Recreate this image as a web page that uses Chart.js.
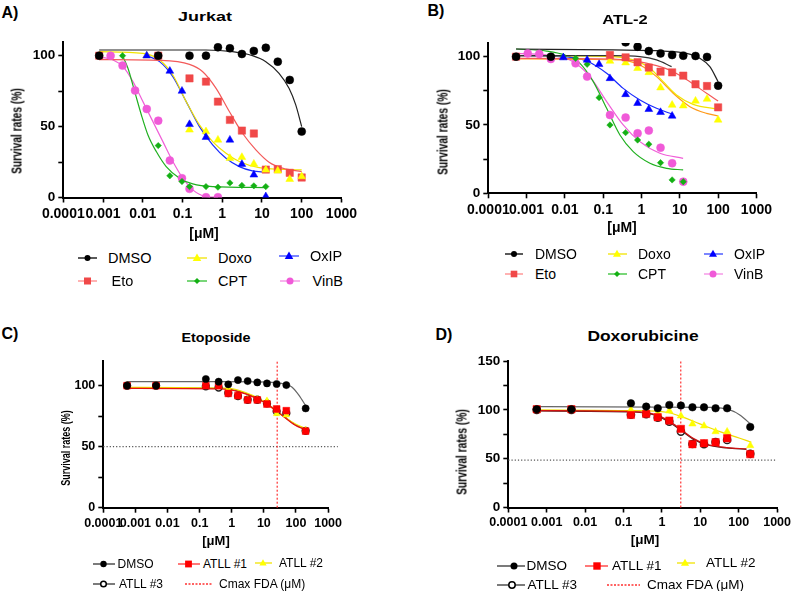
<!DOCTYPE html>
<html>
<head>
<meta charset="utf-8">
<script src="https://cdn.jsdelivr.net/npm/chart.js@4.4.0/dist/chart.umd.min.js"></script>
<style>
html, body { margin: 0; padding: 0; background: #fff; }
#page { position: relative; width: 794px; height: 591px; overflow: hidden; font-family: "Liberation Sans", Arial, sans-serif; color: #000; }
canvas { position: absolute; }
.t { position: absolute; white-space: nowrap; line-height: 1; transform: translate(-50%, -50%); }
.rot { transform: translate(-50%, -50%) rotate(-90deg) scaleX(0.68); }
.lg { position: absolute; white-space: nowrap; line-height: 1; transform: translateY(-50%); }
</style>
</head>
<body>
<div id="page">
  <canvas id="cA" width="360" height="205"></canvas>
  <canvas id="cB" width="375" height="205"></canvas>
  <canvas id="cC" width="305" height="190"></canvas>
  <canvas id="cD" width="354" height="190"></canvas>

  <div class="t" style="left:10px;top:12.5px;font-size:16px;font-weight:bold">A)</div>
  <div class="t" style="left:436px;top:11px;font-size:16px;font-weight:bold">B)</div>
  <div class="t" style="left:10px;top:334px;font-size:16px;font-weight:bold">C)</div>
  <div class="t" style="left:444px;top:335px;font-size:16px;font-weight:bold">D)</div>

  <div class="t" style="left:205px;top:16px;font-size:13px;font-weight:bold;transform:translate(-50%,-50%) scaleX(1.38)">Jurkat</div>
  <div class="t" style="left:625px;top:18.5px;font-size:13px;font-weight:bold;transform:translate(-50%,-50%) scaleX(1.27)">ATL-2</div>
  <div class="t" style="left:215.5px;top:337px;font-size:13px;font-weight:bold;transform:translate(-50%,-50%) scaleX(1.1)">Etoposide</div>
  <div class="t" style="left:643px;top:336px;font-size:14.5px;font-weight:bold;transform:translate(-50%,-50%) scaleX(1.2)">Doxorubicine</div>

  <div class="t rot" style="left:16px;top:131px;font-size:15px;font-weight:bold">Survival rates (%)</div>
  <div class="t rot" style="left:441.7px;top:131.7px;font-size:15px;font-weight:bold">Survival rates (%)</div>
  <div class="t rot" style="left:65px;top:447.5px;font-size:13px;font-weight:bold;transform:translate(-50%,-50%) rotate(-90deg) scaleX(0.69)">Survival rates (%)</div>
  <div class="t rot" style="left:461px;top:451.7px;font-size:15px;font-weight:bold">Survival rates (%)</div>

  <div class="t" style="left:204px;top:232.5px;font-size:14px;font-weight:bold">[μM]</div>
  <div class="t" style="left:622px;top:226.7px;font-size:14px;font-weight:bold">[μM]</div>
  <div class="t" style="left:216px;top:540px;font-size:13px;font-weight:bold">[μM]</div>
  <div class="t" style="left:645px;top:540px;font-size:13.5px;font-weight:bold">[μM]</div>
</div>

<script>
// ====== Eixo X comum (log) ======
const xTickValues = [0.0001, 0.001, 0.01, 0.1, 1, 10, 100, 1000];
const xTickLabels = ['0.0001', '0.001', '0.01', '0.1', '1', '10', '100', '1000'];
const _ = null;

// ====== A) Jurkat - pontos ======
const jurkatDoses = [0.0008, 0.00155, 0.0031, 0.0064, 0.0126, 0.0245, 0.048, 0.097, 0.15, 0.39, 0.78, 1.56, 3.125, 6.25, 12.5, 25, 50, 100];
const jurkatDMSO = [100, _, _, _, _, 100, _, _, 100, 100, 105.9, 105.2, 101.2, 103.3, 105.6, 95.8, 82.9, 46.5];
const jurkatEto  = [100, _, _, _, _, 100, _, _, 84, 81.7, 67.6, 54.7, 47.2, 45.1, 19.7, 20, 17.4, 14.1];
const jurkatDoxo = [_, _, _, _, 100, _, _, _, 47.7, 46.5, 40.6, 27.7, 28.4, 23.7, 19.5, 18.8, 12.9, 14.8];
const jurkatOxIP = [_, _, _, _, 100, _, 89.2, 75.1, 51.6, 42.5, _, 40.6, 23.5, 16, 0.7, _, _, _];
const jurkatCPT  = [_, _, 100, _, _, 36.6, 15.3, 11.3, 7.7, 7.7, 7.3, 10.3, 8.5, 8.2, 7.7, _, _, _];
const jurkatVinB = [_, 100, 93, 75.4, 62.4, 54.2, 26.1, 13.6, 6.1, 0.2, 0.2, _, _, _, _, _, _, _];

// ====== A) Jurkat - curvas ajustadas ======
const jurkatDMSOFitX = [0.0008, 0.39, 1.82, 5.75, 12.5, 26.9, 48, 70.8, 100];
const jurkatDMSOFitY = [104, 104, 102.8, 100, 95.8, 87.6, 77, 65.3, 50];
const jurkatEtoFitX  = [0.0008, 0.0265, 0.15, 0.323, 0.7, 1.51, 3.24, 7.03, 15.1, 32.7, 100];
const jurkatEtoFitY  = [97.2, 96.7, 93.9, 88.7, 77, 60.6, 45.3, 33.6, 24.9, 20.7, 18.3];
const jurkatDoxoFitX = [0.0008, 0.0101, 0.0265, 0.0571, 0.124, 0.267, 0.574, 1.245, 2.69, 8.5, 100];
const jurkatDoxoFitY = [102.8, 101.6, 97, 86.4, 67.6, 51.2, 39.4, 31.2, 25.4, 21.1, 19.5];
const jurkatOxIPFitX = [0.0127, 0.0265, 0.0571, 0.124, 0.267, 0.574, 1.245, 2.69, 5.75, 12.5];
const jurkatOxIPFitY = [100, 95.8, 85.2, 67.6, 50, 37.1, 27.7, 21.8, 18.8, 17.8];
const jurkatCPTFitX  = [0.0031, 0.00426, 0.00627, 0.00923, 0.0135, 0.0219, 0.0389, 0.0841, 0.181, 0.574, 12.5];
const jurkatCPTFitY  = [100, 91, 74.6, 58.2, 44.1, 32.4, 21.8, 13.6, 9.6, 7.7, 7];
const jurkatVinBFitX = [0.0008, 0.00179, 0.00319, 0.00567, 0.0101, 0.018, 0.0321, 0.0571, 0.102, 0.181, 0.39, 0.78];
const jurkatVinBFitY = [99.3, 97, 92.3, 81.7, 67.6, 53.5, 39.4, 25.4, 13.6, 5.4, 0.7, 0.2];

// ====== B) ATL-2 - pontos ======
const atlDoses = [0.00053, 0.00107, 0.00214, 0.0043, 0.0091, 0.019, 0.038, 0.078, 0.15, 0.384, 0.79, 1.55, 3.14, 6.3, 12.3, 25.7, 51.3, 100];
const atlDMSO = [100, _, _, 100, _, _, _, _, _, 110.5, 107.3, 104.1, 102.4, 101.2, 100.7, 100.5, 99.8, 78.8];
const atlEto  = [100, _, _, _, _, _, _, _, 101.2, 99.5, 95.9, 92, 89, 88.5, 86.1, 79.8, 78.5, 62.9];
const atlDoxo = [_, _, _, _, _, _, _, _, 96.8, 95.6, 91.5, 88.5, 77.3, 64.6, 64.1, 67.6, 69, 53.7];
const atlOxIP = [_, _, _, _, 99.3, _, 97.6, 94.4, 84.1, 72.4, 65.9, 61.5, 59.3, 56.6, _, _, _, _];
const atlCPT  = [_, _, _, _, 100, 98.8, 94.4, 70, 50, 44.4, 39, 35.9, 22.4, 9.8, 8.5, _, _, _];
const atlVinB = [_, 102.4, 102, 98.3, _, 95.1, 85.4, _, 57.3, 55.4, 43.9, 45.9, 33.4, 22, 8.5, _, _, _];

// ====== B) ATL-2 - curvas ajustadas ======
const atlDMSOFitX  = [0.00053, 0.182, 3.68, 15, 33.3, 60.8, 100];
const atlDMSOFitY  = [105.6, 104.9, 104.1, 102.4, 98.8, 92.7, 81.7];
const atlGrayFitX  = [0.00053, 0.182, 0.908, 2.47, 6.1];
const atlGrayFitY  = [100.7, 100.7, 100, 97.6, 92.7];
const atlEtoFitX   = [0.00053, 0.182, 0.743, 2.47, 6.7, 18.3, 49.9, 100];
const atlEtoFitY   = [98.8, 98.3, 96.8, 93.4, 89, 81.7, 73.2, 67.6];
const atlDoxoFitX  = [0.00053, 0.182, 0.607, 1.66, 3.68, 8.2, 22.3, 100];
const atlDoxoFitY  = [100.7, 100, 97.6, 91.5, 81.7, 72, 65.1, 61.7];
const atlOrangeFitX = [0.00053, 0.273, 0.908, 2.47, 6.7, 18.3, 49.9, 100];
const atlOrangeFitY = [98.3, 97.6, 93.9, 85.4, 73.2, 63.4, 58.5, 56.6];
const atlOxIPFitX  = [0.00053, 0.0091, 0.0369, 0.123, 0.333, 0.908, 2.47, 6.3];
const atlOxIPFitY  = [100.7, 100, 96.8, 87.8, 76.8, 68.3, 62.2, 58];
const atlCPTFitX   = [0.00053, 0.00333, 0.0111, 0.0247, 0.055, 0.123, 0.273, 0.607, 1.66, 4.51, 12.2];
const atlCPTFitY   = [105.6, 104.1, 100.7, 95.1, 81.7, 62.2, 42.7, 30.5, 22, 18.3, 17.1];
const atlVinBFitX  = [0.00053, 0.00497, 0.0165, 0.045, 0.123, 0.333, 0.908, 3.02, 12.2];
const atlVinBFitY  = [102.4, 100.7, 96.3, 85.4, 67.1, 50, 37.8, 29.3, 25.6];

// ====== C/D) ATLL primários ======
const atllDoses = [0.00055, 0.0044, 0.156, 0.39, 0.78, 1.56, 3.125, 6.25, 12.5, 25, 50, 200];

const etoDMSO  = [100, 100, 105.5, 103.3, 101.1, 104.6, 103.8, 102.7, 101.9, 101.4, 100.5, 81.4];
const etoATLL1 = [100, 100, 100, 100, 93.7, 91.8, 88.3, 88.3, 85, 80.9, 79.5, 62.8];
const etoATLL2 = [100, 100, 100.5, 99.2, 97, 91, 88.8, 88.8, 87.7, 77, 76, 63.7];
const etoATLL3 = [100, 100, 99.5, 98.5, 94, 91.5, 88.5, 88.5, 85.5, 79, 77.5, 63];
const etoDMSOFitX  = [0.00053, 0.5, 13.6, 35.5, 72.6, 123, 203];
const etoDMSOFitY  = [103.3, 103.3, 103, 101.9, 99.2, 92.3, 83.3];
const etoATLL1FitX = [0.00053, 0.48, 1.58, 5.25, 13.6, 35.5, 92, 203];
const etoATLL1FitY = [97.8, 97.3, 95.1, 90.2, 84.2, 76, 67.8, 63.7];
const etoATLL2FitX = [0.00053, 0.78, 2.57, 8.5, 25.4, 72.6, 203];
const etoATLL2FitY = [98.6, 97.8, 94.5, 88.3, 78.7, 70.5, 64.5];
const etoATLL3FitY = [98.3, 97.8, 95.6, 90.6, 84.6, 76.4, 68.2, 64];
const etoCmax = 26;

const doxDMSO  = [100.6, 100.6, 106.7, 103.3, 101.6, 105, 104.4, 102.6, 102.6, 101.6, 101.6, 82.5];
const doxATLL1 = [100.6, 100.6, 94.8, 95.8, 92.4, 89, 80.5, 64.8, 65.8, 66.8, 70.9, 54.6];
const doxATLL2 = [100, 100, 99.9, 97.5, 96.5, 98.9, 93.8, 85.6, 83.6, 77.7, 77.7, 63.4];
const doxATLL3 = [100, 100, 95, 95.5, 92, 88, 77.7, 65, 64.8, 67, 69.2, 55];
const doxDMSOFitX  = [0.00055, 21.6, 58.9, 107, 214];
const doxDMSOFitY  = [103.3, 102.6, 99.9, 94.8, 84.6];
const doxATLL1FitX = [0.00055, 0.179, 0.728, 1.61, 3.25, 6.52, 14.5, 48.2, 159];
const doxATLL1FitY = [99.2, 98.2, 94.8, 88, 79.5, 70.9, 64.8, 61.4, 60];
const doxATLL2FitX = [0.00055, 0.179, 1.32, 3.25, 9.7, 32.3, 107, 214];
const doxATLL2FitY = [99.9, 99.2, 97.5, 93.1, 85.6, 77.7, 70.9, 66.8];
const doxATLL3FitY = [98.8, 97.8, 94, 87, 78.5, 70, 64.2, 61, 59.6];
const doxCmax = 3.1;

// ====== Helpers ======
const FONT = '"Liberation Sans", Arial, sans-serif';
const YW = 42, XH = 26;

function pts(xs, ys) {
    return xs.map((x, i) => ({ x: x, y: ys[i] })).filter(p => p.y !== null);
}

function pointSet(xs, ys, color, style, r, fill) {
    return {
        data: pts(xs, ys), showLine: false,
        pointStyle: style, pointRadius: r,
        pointBackgroundColor: fill || color, pointBorderColor: color,
        pointBorderWidth: fill ? 1.5 : 0.5
    };
}

function fitSet(xs, ys, color, width) {
    return {
        data: pts(xs, ys), showLine: true, pointRadius: 0,
        borderColor: color, borderWidth: width || 1.2,
        cubicInterpolationMode: 'monotone', fill: false
    };
}

function refLine(xs, ys, color, dash) {
    return {
        data: pts(xs, ys), showLine: true, pointRadius: 0,
        borderColor: color, borderWidth: 1.2, borderDash: dash, clip: false
    };
}

function makePanel(id, box, area, yMax, yTicks, xFont, yFont, datasets) {
    const cv = document.getElementById(id);
    cv.style.left = box.x + 'px';
    cv.style.top = box.y + 'px';
    new Chart(cv, {
        type: 'scatter',
        data: { datasets: datasets },
        options: {
            responsive: false, animation: false, events: [],
            layout: { padding: {
                left: area.l - box.x - YW,
                top: area.t - box.y,
                right: box.x + box.w - area.r,
                bottom: box.y + box.h - area.b - XH
            } },
            plugins: { legend: { display: false }, tooltip: { enabled: false } },
            scales: {
                x: {
                    type: 'logarithmic', min: 0.0001, max: 1000,
                    afterFit: s => { s.height = XH; },
                    afterBuildTicks: s => { s.ticks = xTickValues.map(v => ({ value: v })); },
                    ticks: {
                        autoSkip: false, maxRotation: 0, minRotation: 0, padding: 3, color: '#000',
                        font: { family: FONT, size: xFont, weight: 'bold' },
                        callback: (v, i) => xTickLabels[i]
                    },
                    grid: { drawOnChartArea: false, tickLength: 5, tickColor: '#000', tickWidth: 1.6 },
                    border: { color: '#000', width: 2 }
                },
                y: {
                    min: 0, max: yMax,
                    afterFit: s => { s.width = YW; },
                    afterBuildTicks: s => { s.ticks = yTicks.map(v => ({ value: v })); },
                    ticks: {
                        padding: 3, color: '#000',
                        font: { family: FONT, size: yFont, weight: 'bold' },
                        callback: v => (v % 50 === 0 ? String(v) : '')
                    },
                    grid: { drawOnChartArea: false, tickLength: 5, tickColor: '#000', tickWidth: 1.6 },
                    border: { color: '#000', width: 2 }
                }
            }
        }
    });
}

// ====== Cores ======
const cBlack = '#000000', cEto = '#f04848', cDoxo = '#ffff00', cOxIP = '#0000ff',
      cCPT = '#14b014', cVinB = '#f05ad8', cOrange = '#ff9a1a';

// ====== A) Jurkat ======
makePanel('cA', { x: 0, y: 25, w: 360, h: 205 }, { l: 63.3, t: 41.5, r: 342.7, b: 197.5 },
    110, [0, 25, 50, 75, 100], 14, 13.5, [
    pointSet(jurkatDoses, jurkatDMSO, cBlack, 'circle', 4),
    pointSet(jurkatDoses, jurkatOxIP, cOxIP, 'triangle', 4.5),
    pointSet(jurkatDoses, jurkatDoxo, cDoxo, 'triangle', 4.5),
    pointSet(jurkatDoses, jurkatEto, cEto, 'rect', 5.2),
    pointSet(jurkatDoses, jurkatCPT, cCPT, 'rectRot', 3.2),
    pointSet(jurkatDoses, jurkatVinB, cVinB, 'circle', 4),
    fitSet(jurkatDMSOFitX, jurkatDMSOFitY, '#222'),
    fitSet(jurkatEtoFitX, jurkatEtoFitY, '#f35a5a'),
    fitSet(jurkatDoxoFitX, jurkatDoxoFitY, '#f2e400'),
    fitSet(jurkatOxIPFitX, jurkatOxIPFitY, '#1a2cff'),
    fitSet(jurkatCPTFitX, jurkatCPTFitY, '#20b020'),
    fitSet(jurkatVinBFitX, jurkatVinBFitY, '#f060d8')
]);

// ====== B) ATL-2 ======
makePanel('cB', { x: 400, y: 25, w: 375, h: 205 }, { l: 488.3, t: 43, r: 756.7, b: 193.3 },
    110, [0, 25, 50, 75, 100], 14, 13.5, [
    pointSet(atlDoses, atlDMSO, cBlack, 'circle', 4),
    pointSet(atlDoses, atlEto, cEto, 'rect', 5.2),
    pointSet(atlDoses, atlDoxo, cDoxo, 'triangle', 4.5),
    pointSet(atlDoses, atlOxIP, cOxIP, 'triangle', 4.5),
    pointSet(atlDoses, atlCPT, cCPT, 'rectRot', 3.2),
    pointSet(atlDoses, atlVinB, cVinB, 'circle', 4),
    fitSet(atlDMSOFitX, atlDMSOFitY, '#222'),
    fitSet(atlGrayFitX, atlGrayFitY, '#333'),
    fitSet(atlEtoFitX, atlEtoFitY, '#f35a5a'),
    fitSet(atlDoxoFitX, atlDoxoFitY, '#f2e400'),
    fitSet(atlOrangeFitX, atlOrangeFitY, cOrange),
    fitSet(atlOxIPFitX, atlOxIPFitY, '#1a2cff'),
    fitSet(atlCPTFitX, atlCPTFitY, '#20b020'),
    fitSet(atlVinBFitX, atlVinBFitY, '#f060d8')
]);

// ====== C) Etoposide ======
makePanel('cC', { x: 40, y: 345, w: 305, h: 190 }, { l: 103.3, t: 361.3, r: 328.3, b: 507.7 },
    120, [0, 25, 50, 75, 100], 12.5, 12.5, [
    pointSet(atllDoses, etoDMSO, cBlack, 'circle', 3.6),
    pointSet(atllDoses, etoATLL1, '#ff0000', 'rect', 4.8),
    pointSet(atllDoses, etoATLL2, cDoxo, 'triangle', 3.8),
    pointSet(atllDoses, etoATLL3, '#222', 'circle', 3.4, 'rgba(255,255,255,0.6)'),
    fitSet(etoDMSOFitX, etoDMSOFitY, '#666'),
    fitSet(etoATLL1FitX, etoATLL1FitY, '#e81010'),
    fitSet(etoATLL2FitX, etoATLL2FitY, '#f0dc00'),
    fitSet(etoATLL1FitX, etoATLL3FitY, '#7a4040'),
    refLine([etoCmax, etoCmax], [0, 120], '#ff3030', [2, 2]),
    refLine([0.0001, 2000], [50, 50], '#555', [1.2, 2])
]);

// ====== D) Doxorubicine ======
makePanel('cD', { x: 440, y: 345, w: 354, h: 190 }, { l: 508.3, t: 361, r: 777.3, b: 507.5 },
    150, [0, 25, 50, 75, 100, 125, 150], 12.5, 13.5, [
    pointSet(atllDoses, doxDMSO, cBlack, 'circle', 3.8),
    pointSet(atllDoses, doxATLL1, '#ff0000', 'rect', 5.2),
    pointSet(atllDoses, doxATLL2, cDoxo, 'triangle', 4.2),
    pointSet(atllDoses, doxATLL3, '#222', 'circle', 3.6, 'rgba(255,255,255,0.6)'),
    fitSet(doxDMSOFitX, doxDMSOFitY, '#666'),
    fitSet(doxATLL1FitX, doxATLL1FitY, '#d01010'),
    fitSet(doxATLL2FitX, doxATLL2FitY, '#f0dc00'),
    fitSet(doxATLL1FitX, doxATLL3FitY, '#5a2020'),
    refLine([doxCmax, doxCmax], [0, 150], '#ff3030', [2, 2]),
    refLine([0.0001, 925], [48.5, 48.5], '#555', [1.2, 2])
]);

// ====== Legendas (HTML) ======
function markerSvg(style, color, cx, cy, r) {
    if (style === 'circle') return `<circle cx="${cx}" cy="${cy}" r="${r}" fill="${color}"/>`;
    if (style === 'circleOpen') return `<circle cx="${cx}" cy="${cy}" r="${r}" fill="#fff" stroke="${color}" stroke-width="1.5"/>`;
    if (style === 'rect') return `<rect x="${cx - r}" y="${cy - r}" width="${2 * r}" height="${2 * r}" fill="${color}"/>`;
    if (style === 'triangle') return `<polygon points="${cx},${cy - r} ${cx + r * 0.95},${cy + r * 0.65} ${cx - r * 0.95},${cy + r * 0.65}" fill="${color}"/>`;
    if (style === 'rectRot') return `<polygon points="${cx},${cy - r} ${cx + r},${cy} ${cx},${cy + r} ${cx - r},${cy}" fill="${color}"/>`;
    return '';
}

function addLegend(items, size) {
    const page = document.getElementById('page');
    items.forEach(it => {
        const w = it.x2 - it.x1, h = 16, cy = h / 2;
        const dash = it.dash ? 'stroke-dasharray="2 1.5"' : '';
        const svg = document.createElement('div');
        svg.style.cssText = `position:absolute;left:${it.x1}px;top:${it.y - h / 2}px;width:${w}px;height:${h}px`;
        svg.innerHTML = `<svg width="${w}" height="${h}" style="overflow:visible"><line x1="0" y1="${cy}" x2="${w}" y2="${cy}" stroke="${it.line}" stroke-width="1.3" ${dash}/>` +
            markerSvg(it.style, it.color, it.mx - it.x1, cy, it.r) + '</svg>';
        page.appendChild(svg);
        const tx = document.createElement('div');
        tx.className = 'lg';
        tx.style.cssText = `left:${it.tx}px;top:${it.y}px;font-size:${size}px`;
        tx.textContent = it.text;
        page.appendChild(tx);
    });
}

const cellLegend = ['DMSO', 'Doxo', 'OxIP', 'Eto', 'CPT', 'VinB'];
const atllLegend = ['DMSO', 'ATLL #1', 'ATLL #2', 'ATLL #3', 'Cmax FDA (μM)'];

addLegend([
    { text: cellLegend[0], x1: 78, x2: 97, mx: 87.5, y: 257.5, tx: 108, style: 'circle', color: '#000', line: '#000', r: 3 },
    { text: cellLegend[1], x1: 187, x2: 207, mx: 197, y: 257.5, tx: 218, style: 'triangle', color: cDoxo, line: '#f2e400', r: 4.5 },
    { text: cellLegend[2], x1: 279, x2: 299, mx: 289, y: 256, tx: 310, style: 'triangle', color: cOxIP, line: '#3344ff', r: 4.5 },
    { text: cellLegend[3], x1: 78, x2: 97, mx: 87.5, y: 281, tx: 111.5, style: 'rect', color: cEto, line: '#f88', r: 3.5 },
    { text: cellLegend[4], x1: 187, x2: 207, mx: 197, y: 281, tx: 218, style: 'rectRot', color: cCPT, line: '#30c030', r: 3 },
    { text: cellLegend[5], x1: 280, x2: 300, mx: 290, y: 281, tx: 312.5, style: 'circle', color: cVinB, line: '#f48ae4', r: 3.5 }
], 14.5);

addLegend([
    { text: cellLegend[0], x1: 505, x2: 523, mx: 514, y: 253.5, tx: 535, style: 'circle', color: '#000', line: '#000', r: 3 },
    { text: cellLegend[1], x1: 608, x2: 627, mx: 617, y: 253.5, tx: 638, style: 'triangle', color: cDoxo, line: '#f2e400', r: 4.2 },
    { text: cellLegend[2], x1: 704, x2: 723, mx: 713, y: 253.5, tx: 734, style: 'triangle', color: cOxIP, line: '#3344ff', r: 4.2 },
    { text: cellLegend[3], x1: 505, x2: 523, mx: 514, y: 273.5, tx: 535, style: 'rect', color: cEto, line: '#f88', r: 3.3 },
    { text: cellLegend[4], x1: 608, x2: 627, mx: 617, y: 273.5, tx: 638, style: 'rectRot', color: cCPT, line: '#30c030', r: 3 },
    { text: cellLegend[5], x1: 704, x2: 723, mx: 713, y: 273.5, tx: 734, style: 'circle', color: cVinB, line: '#f48ae4', r: 3.5 }
], 14);

addLegend([
    { text: atllLegend[0], x1: 93, x2: 115, mx: 103.5, y: 563.5, tx: 117.5, style: 'circle', color: '#000', line: '#333', r: 3.2 },
    { text: atllLegend[1], x1: 178, x2: 200, mx: 188.5, y: 563.5, tx: 203, style: 'rect', color: '#ff0000', line: '#ff3030', r: 3.4 },
    { text: atllLegend[2], x1: 255, x2: 272, mx: 263, y: 562.5, tx: 279, style: 'triangle', color: cDoxo, line: '#f2e400', r: 3.8 },
    { text: atllLegend[3], x1: 93, x2: 115, mx: 103.5, y: 583.5, tx: 119, style: 'circleOpen', color: '#000', line: '#333', r: 2.8 },
    { text: atllLegend[4], x1: 185, x2: 212, mx: 0, y: 583.5, tx: 219, style: 'none', color: '#f33', line: '#ff3030', dash: true, r: 0 }
], 12);

addLegend([
    { text: atllLegend[0], x1: 497, x2: 525, mx: 514, y: 565.5, tx: 526.5, style: 'circle', color: '#000', line: '#333', r: 3.5 },
    { text: atllLegend[1], x1: 585, x2: 608, mx: 597, y: 565.5, tx: 612, style: 'rect', color: '#ff0000', line: '#ff3030', r: 3.7 },
    { text: atllLegend[2], x1: 677, x2: 695, mx: 685, y: 563, tx: 706, style: 'triangle', color: cDoxo, line: '#f2e400', r: 4.3 },
    { text: atllLegend[3], x1: 497, x2: 525, mx: 512, y: 584.5, tx: 527.5, style: 'circleOpen', color: '#000', line: '#333', r: 3.2 },
    { text: atllLegend[4], x1: 607, x2: 640, mx: 0, y: 584.5, tx: 647, style: 'none', color: '#f33', line: '#ff3030', dash: true, r: 0 }
], 13.5);
</script>
</body>
</html>
